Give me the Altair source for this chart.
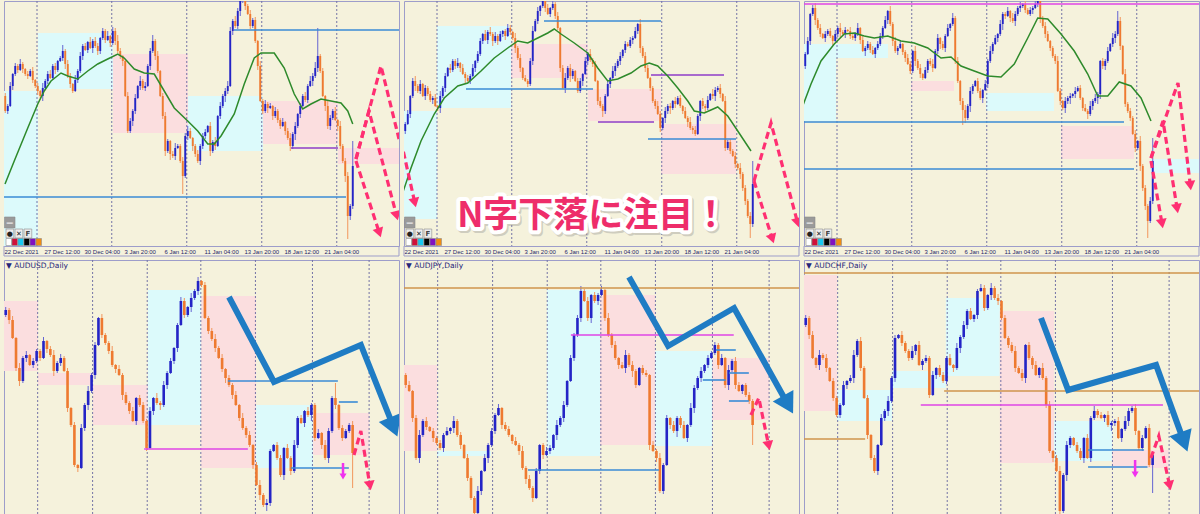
import json
import math

import altair as alt
import pandas as pd

# ------------------------------------------------------------------ colours
BG = "#f5f2dc"
FRAME = "#9d9dca"
GRID = "#7373a6"
ZONE_FILL = {"pink": "#fbdedf", "cyan": "#dcfafb"}
BODY_FILL = {"up": "#2424c6", "down": "#ee7a30"}
WICK_FILL = {"up": "#6464d2", "down": "#f2965c"}
LEVEL_FILL = {"blue": "#3a8bd6", "purple": "#8e3cc8", "magenta": "#df44e6", "orange": "#cf944c"}
MA_COLOR = "#2e8a2b"
ARROW_STYLE = {
    "pink": dict(color="#ff2f72", width=3.2, dash=[7, 4], head=120),
    "blue": dict(color="#1f7cc4", width=6.0, dash=None, head=560),
    "magenta": dict(color="#f032ee", width=2.5, dash=None, head=50),
}
TOOLBAR_SWATCHES = ["#ffffff", "#d0103a", "#18c8f0", "#000000", "#8010c0", "#f08c10"]

# ------------------------------------------------------------------ geometry
PANEL_W = 395
TOP = dict(slots=158, px=2.5, ydom=[0, 245], height=245)       # H4 panels
BOTTOM = dict(slots=115, px=3.435, ydom=[-8, 255], height=263)  # daily panels

# ------------------------------------------------------------------ time axis (H4)
H4_LABELS = ["22 Dec 2021", "27 Dec 12:00", "30 Dec 04:00", "3 Jan 20:00", "6 Jan 12:00",
             "11 Jan 04:00", "13 Jan 20:00", "18 Jan 12:00", "21 Jan 04:00"]
H4_LABEL_BARS = [0, 16, 32, 48, 64, 80, 96, 112, 128]
H4_GRID = [13.2, 43.1, 73.1, 103.1, 133.1]
D1_GRID = [9.8, 25.8, 41.7, 57.3, 73.2, 89.8, 106.3]

# ------------------------------------------------------------------ price data (points above window low)
tl_open0 = 150
tl_close = [
    135, 140, 160, 172, 180, 176, 182, 177, 172, 170,
    175, 166, 160, 155, 150, 158, 165, 172, 168, 180,
    176, 185, 188, 195, 182, 170, 162, 155, 166, 175,
    190, 200, 196, 204, 198, 205, 200, 195, 208, 215,
    206, 210, 203, 215, 205, 195, 190, 185, 150, 115,
    125, 135, 148, 160, 165, 158, 160, 180, 195, 205,
    190, 175, 150, 130, 95, 105, 92, 90, 98, 100,
    85, 70, 110, 115, 108, 100, 92, 85, 100, 110,
    114, 120, 95, 104, 100, 130, 140, 150, 155, 160,
    215, 225, 220, 235, 245, 250, 240, 232, 220, 226,
    205, 180, 145, 135, 142, 138, 140, 130, 135, 126,
    120, 124, 115, 108, 100, 112, 120, 132, 140, 150,
    146, 160, 165, 170, 178, 190, 175, 150, 140, 120,
    128, 135, 126, 120, 100, 85, 70, 30, 40, 80,
]
tl_wick_hi = ("3241325213 2413152342 3126243152 4231524313 2514363124 3241524236 2513421352 "
              "2435312423 3142514235 4253613242 3152423142 2413524132 42536s2315 324152342p")
tl_wick_lo = ("2314231423 1324251312 4213524213 2413152432 3142423512 2531423142 4213526241 "
              "2i24153243 3152413263 1423524132 2413251423 3142536241 2315242153 4215326n43")

tm_open0 = 115
tm_close = [
    122, 132, 150, 165, 160, 155, 162, 150, 158, 152,
    146, 148, 140, 138, 150, 158, 170, 178, 176, 185,
    180, 183, 178, 172, 168, 165, 170, 178, 185, 192,
    205, 212, 206, 214, 212, 205, 210, 205, 212, 215,
    210, 218, 214, 208, 198, 188, 178, 168, 165, 162,
    185, 215, 225, 235, 240, 245, 238, 232, 238, 242,
    230, 218, 178, 158, 168, 178, 170, 175, 165, 155,
    165, 172, 185, 192, 186, 182, 165, 145, 140, 135,
    150, 162, 168, 175, 180, 185, 190, 196, 202, 200,
    206, 208, 215, 222, 198, 190, 178, 168, 158, 145,
    140, 132, 118, 128, 135, 140, 138, 145, 142, 148,
    140, 135, 128, 124, 118, 116, 112, 130, 145, 140,
    138, 146, 152, 150, 156, 158, 152, 145, 98, 104,
    95, 90, 82, 78, 72, 58, 45, 30, 22, 62,
]
tm_wick_hi = ("2413524132 3241523142 2514232413 3142524231 2431524132 3524132415 2413524213 "
              "3142523142 2415324132 3241524312 2531423142 3142524213 2415324152 324152324n")
tm_wick_lo = ("3142523142 2413524132 3241523142 2314252413 4132524213 2413524132 3241526312 "
              "2514231426 3142524231 2413524132 3142536241 2315242153 4213524132 31425342e3")

tr_open0 = 180
tr_close = [
    192, 205, 232, 238, 226, 218, 212, 208, 212, 215,
    210, 205, 212, 218, 214, 212, 216, 215, 210, 208,
    212, 218, 206, 195, 198, 202, 196, 192, 198, 202,
    210, 218, 226, 235, 222, 205, 195, 198, 202, 194,
    188, 182, 175, 195, 185, 178, 172, 168, 176, 185,
    182, 178, 195, 208, 202, 198, 210, 218, 222, 228,
    185, 165, 145, 136, 128, 140, 155, 160, 165, 155,
    148, 156, 162, 185, 195, 202, 208, 212, 222, 232,
    230, 235, 228, 225, 232, 238, 240, 242, 236, 232,
    236, 238, 242, 245, 228, 220, 212, 205, 198, 190,
    185, 155, 145, 138, 145, 148, 150, 152, 155, 158,
    148, 138, 135, 132, 140, 145, 148, 152, 185, 180,
    185, 195, 202, 208, 212, 225, 200, 172, 142, 135,
    128, 112, 98, 105, 80, 58, 40, 25, 45, 85,
]
tr_wick_hi = ("2413524132 3142523142 2514232413 3241524231 2431524132 3524132415 2413524213 "
              "3142523142 2415324132 3241524312 2531423142 3142524213 24153a4152 324152324n")
tr_wick_lo = ("3142523142 2413524132 3241523142 2314252413 4132524213 2413524132 324f526312 "
              "2514231426 3142524231 2413524132 3142536241 2315242653 4213524132 3142534h23")

bl_open0 = 200
bl_close = [
    205, 195, 177, 147, 134, 157, 160, 150, 154, 164,
    157, 174, 166, 160, 144, 152, 157, 144, 107, 90,
    50, 47, 87, 110, 124, 140, 170, 197, 180, 172,
    164, 150, 146, 140, 120, 112, 104, 94, 117, 110,
    94, 67, 104, 117, 112, 110, 130, 142, 154, 167,
    190, 214, 200, 208, 217, 224, 234, 230, 197, 184,
    176, 167, 157, 146, 137, 130, 120, 110, 97, 87,
    80, 70, 50, 30, 20, 10, 12, 64, 70, 57,
    40, 67, 57, 44, 70, 97, 92, 104, 100, 110,
    77, 82, 70, 57, 84, 117, 110, 87, 77, 84,
    90, 62,
]
bl_wick_hi = ("3241524132 2413524231 3142523142 2514232413 3241524231 2431524132 3524132415 "
              "2413524213 3142523142 241532f132 24")
bl_wick_lo = ("2413524132 3142523142 2413524132 3241523142 2314252413 4132524213 2413524132 "
              "3241526312 2514231426 3142524231 2z")

bm_open0 = 140
bm_close = [
    130, 124, 97, 57, 80, 94, 88, 84, 77, 72,
    67, 80, 84, 87, 94, 80, 70, 57, 37, 17,
    2, 24, 44, 57, 70, 84, 100, 107, 90, 86,
    80, 74, 70, 64, 47, 36, 27, 17, 44, 70,
    60, 64, 67, 80, 90, 97, 110, 134, 157, 180,
    197, 224, 214, 197, 220, 214, 220, 225, 197, 180,
    170, 157, 150, 147, 160, 150, 144, 130, 147, 142,
    140, 70, 64, 57, 24, 50, 97, 90, 84, 97,
    90, 77, 90, 107, 127, 137, 144, 150, 157, 162,
    170, 150, 157, 130, 145, 154, 130, 124, 130, 120,
    114, 90,
]
bm_wick_hi = ("2413524132 3241523142 2514232413 3142524231 2431524132 3524132415 2413524213 "
              "3142523142 2415324132 3241524312 32")
bm_wick_lo = ("3142523142 2413524132 3241523142 2314252413 4132524213 2413524132 3241526312 "
              "2514231426 3142524231 2413524132 3k")

br_open0 = 190
br_close = [
    197, 180, 157, 150, 160, 157, 147, 134, 117, 100,
    110, 130, 134, 137, 160, 174, 147, 117, 80, 57,
    44, 70, 97, 104, 114, 137, 177, 180, 172, 164,
    157, 164, 170, 150, 154, 157, 120, 140, 147, 140,
    134, 157, 150, 147, 167, 178, 190, 204, 196, 200,
    224, 227, 207, 220, 227, 217, 214, 197, 177, 170,
    164, 147, 142, 137, 170, 157, 150, 140, 147, 137,
    110, 64, 57, 44, 4, 40, 70, 77, 70, 64,
    57, 77, 57, 97, 104, 100, 97, 100, 90, 92,
    94, 77, 86, 94, 104, 107, 84, 67, 77, 87,
    50, 60,
]
br_wick_hi = ("3241524132 2413524231 3142523142 2514232413 3241524231 2431524132 3524132415 "
              "2413524213 3142523142 2415324132 43")
br_wick_lo = ("2413524132 3142523142 2413524132 3241523142 2314252413 4132524213 2413524132 "
              "3241526312 2514231426 3142524231 2s")

# ------------------------------------------------------------------ 20-period moving averages (H4)
tl_ma_bar = [0.4, 4.1, 9.5, 13.5, 16.1, 18.8, 22.8, 25.5, 29.5, 33.5, 37.5, 41.5, 45.5, 48.1, 52.1,
             56.1, 60.1, 64.1, 68.1, 73.5, 77.5, 81.5, 84.1, 86.8, 92.1, 96.1, 100.1, 102.8, 108.1,
             112.1, 116.1, 119.5, 122.8, 126.8, 130.8, 134.8, 137.5, 139.5]
tl_ma_val = [62, 85, 118, 142, 155, 165, 173, 170, 167, 175, 182, 187, 192, 188, 177,
             173, 172, 155, 138, 125, 115, 102, 102, 110, 132, 162, 188, 193, 193,
             178, 152, 137, 142, 147, 145, 143, 135, 122]
tm_ma_bar = [-1.2, 2.8, 6.8, 12.1, 16.1, 21.5, 25.5, 30.8, 36.1, 41.5, 45.5, 49.5, 53.5, 57.5, 60.1,
             62.8, 68.1, 73.5, 77.5, 81.5, 85.5, 90.8, 94.8, 98.1, 101.5, 105.5, 109.5, 113.5,
             116.1, 120.1, 125.5, 129.5, 133.5, 138.8]
tm_ma_val = [48, 78, 105, 132, 148, 160, 163, 175, 188, 198, 205, 203, 208, 213, 217,
             212, 203, 193, 178, 165, 167, 173, 180, 183, 180, 170, 158, 145,
             135, 133, 139, 130, 115, 95]
tr_ma_bar = [-0.5, 2.8, 6.8, 12.1, 16.1, 20.1, 24.1, 28.1, 33.5, 38.8, 44.1, 49.5, 54.8, 58.8, 62.8,
             68.1, 73.5, 78.8, 84.1, 89.5, 93.5, 97.5, 102.8, 108.1, 113.5, 117.5, 121.5, 126.1,
             130.8, 134.8, 138.8]
tr_ma_val = [140, 162, 185, 202, 212, 213, 210, 208, 210, 205, 203, 198, 188, 189, 180,
             175, 170, 169, 182, 208, 228, 227, 212, 195, 172, 150, 150, 164,
             160, 148, 125]

# ------------------------------------------------------------------ shaded supply/demand zones
# (bar_from, bar_to, price_low, price_high, kind)
tl_zones = [(0, 13.6, 0, 155, "cyan"), (13.6, 43.6, 157, 213, "cyan"), (43.6, 73.6, 113, 192, "pink"),
            (73.6, 103.6, 95, 150, "cyan"), (103.6, 133.6, 102, 145, "pink"), (133.6, 158, 82, 98, "pink")]
tm_zones = [(0, 13.2, 27, 135, "cyan"), (13.2, 42.8, 138, 220, "cyan"), (42.8, 73.6, 168, 202, "pink"),
            (73.6, 102.8, 125, 157, "pink"), (102.8, 132.8, 72, 122, "pink")]
tr_zones = [(0, 12.8, 125, 202, "cyan"), (12.8, 33.6, 188, 202, "cyan"), (42.8, 60, 155, 165, "pink"),
            (72.8, 100, 135, 153, "cyan"), (102.8, 132, 87, 120, "pink"), (138.8, 158, 73, 87, "cyan")]
bl_zones = [(0, 9.9, 144, 214, "pink"), (9.9, 25.9, 130, 142, "pink"), (25.9, 41.9, 90, 130, "pink"),
            (41.9, 57.4, 90, 225, "cyan"), (57.4, 73.4, 47, 219, "pink"), (73.4, 90, 47, 110, "cyan"),
            (90, 106.3, 60, 102, "pink")]
bm_zones = [(0, 9.6, 64, 150, "pink"), (9.6, 25.3, 59, 64, "cyan"), (41.6, 57.1, 59, 225, "cyan"),
            (57.1, 73.1, 70, 220, "pink"), (73.1, 89.7, 69, 164, "cyan"), (89.7, 106.3, 95, 157, "pink")]
br_zones = [(0, 9.6, 104, 240, "pink"), (9.6, 25.6, 94, 125, "cyan"), (25.6, 41.3, 127, 144, "cyan"),
            (41.3, 57, 139, 217, "cyan"), (57, 72.8, 52, 204, "pink"), (72.8, 89.7, 54, 94, "cyan"),
            (89.7, 106.3, 47, 65, "pink")]

# ------------------------------------------------------------------ horizontal levels
# (bar_from, bar_to, price, kind)
tl_levels = [(92, 158, 216, "blue"), (0, 136.8, 49, "blue"), (114.8, 133.6, 98, "purple")]
tm_levels = [(56, 102.8, 225, "blue"), (24.8, 75.6, 157, "blue"), (98.8, 128, 171, "purple"),
             (77.6, 100, 124, "purple"), (97.6, 132.8, 107, "blue")]
tr_levels = [(0, 158, 242, "magenta"), (0, 128, 124, "blue"), (0, 132, 77, "blue")]
bl_levels = [(65.2, 97.2, 134, "blue"), (97.5, 103, 113, "blue"), (40.8, 71, 66, "magenta"),
             (83.6, 100.4, 47, "blue")]
bm_levels = [(0, 115, 227, "orange"), (48.6, 96, 180, "magenta"), (36.1, 74.2, 45, "blue"),
             (90.8, 96.6, 165, "blue"), (87, 93.6, 135, "blue"), (94.6, 100.4, 142, "blue"),
             (94.6, 100.4, 114, "blue")]
br_levels = [(0, 115, 242, "orange"), (40.8, 115, 124, "orange"), (0, 17.8, 76, "orange"),
             (34, 104.5, 110, "magenta"), (82.7, 99, 65, "blue"), (82.7, 100, 48, "blue")]

# ------------------------------------------------------------------ N-pattern arrows (bar, price)
tl_arrows = [("pink", [(140.8, 87), (150.8, 180), (158, 107)], False),
             ("pink", [(140.8, 87), (146, 135), (157.6, 25)], True),
             ("pink", [(140.8, 85), (150.8, 8)], True)]
tm_arrows = [("pink", [(-1.2, 105), (4.8, 38)], True),
             ("pink", [(140, 65), (146.8, 123), (158, 18)], True),
             ("pink", [(140, 65), (148, 2)], True)]
tr_arrows = [("pink", [(138.8, 88), (149.6, 163), (154.8, 55)], True),
             ("pink", [(138.8, 88), (143.6, 125), (149.6, 32)], True),
             ("pink", [(138.8, 85), (143.6, 17)], True)]
bl_arrows = [("blue", [(65.5, 218), (78.6, 133), (103.9, 170), (114.7, 77)], True),
             ("pink", [(101.9, 60), (103.9, 84), (106.8, 24)], True),
             ("magenta", [(98.7, 52), (98.7, 35)], True)]
bm_arrows = [("blue", [(65.5, 238), (76.9, 169), (96.1, 207), (113.5, 100)], True),
             ("pink", [(101, 100), (103.3, 117), (106.5, 64)], True)]
br_arrows = [("blue", [(69, 197), (76.9, 125), (102.5, 150), (111.8, 62)], True),
             ("pink", [(101, 57), (103.3, 79), (106.8, 24)], True),
             ("magenta", [(96.4, 55), (96.4, 37)], True)]

HEADLINE = ("N字下落に注目！", 75.5, 30)
SYMBOLS = {"bl": "AUDUSD,Daily", "bm": "AUDJPY,Daily", "br": "AUDCHF,Daily"}


def wick_list(code):
    return [int(ch, 36) for ch in code.replace(" ", "")]


def candle_frame(closes, open0, hi_code, lo_code):
    hi, lo = wick_list(hi_code), wick_list(lo_code)
    assert len(hi) == len(lo) == len(closes), (len(hi), len(lo), len(closes))
    opens = [open0] + list(closes[:-1])
    rows = []
    for i, (o, c) in enumerate(zip(opens, closes)):
        side = "up" if c >= o else "down"
        rows.append({"bar": i + 0.5, "left": i + 0.12, "right": i + 0.88,
                     "open": o, "close": c,
                     "high": max(o, c) + hi[i], "low": min(o, c) - lo[i],
                     "body": BODY_FILL[side], "wick": WICK_FILL[side]})
    return pd.DataFrame(rows)


def arrow_frames(arrows, px):
    """Split arrow polylines into shaft points and arrow-head markers."""
    shafts, heads = [], []
    for pid, (style, pts, has_head) in enumerate(arrows):
        pts = list(pts)
        if has_head:
            (x0, y0), (x1, y1) = pts[-2], pts[-1]
            dxp, dyp = (x1 - x0) * px, -(y1 - y0)          # screen pixels, y down
            length = math.hypot(dxp, dyp)
            ux, uy = dxp / length, dyp / length
            back = math.sqrt(ARROW_STYLE[style]["head"]) * 0.5
            cx, cy = x1 - ux * back / px, y1 + uy * back
            heads.append({"style": style, "x": cx, "y": cy,
                          "angle": math.degrees(math.atan2(ux, -uy)) % 360})
            pts[-1] = (cx, cy)
        for seq, (x, y) in enumerate(pts):
            shafts.append({"style": style, "path": pid, "seq": seq, "x": x, "y": y})
    return pd.DataFrame(shafts), pd.DataFrame(heads)


def panel(geom, closes, open0, hi_code, lo_code, zones, levels, grid, arrows,
          ma=None, axis=None, symbol=None, toolbar=False, headline=None):
    xs = alt.Scale(domain=[0, geom["slots"]], nice=False, zero=False)
    ys = alt.Scale(domain=geom["ydom"], nice=False, zero=False)

    def X(field):
        return alt.X(f"{field}:Q", scale=xs, axis=axis)

    def Y(field):
        return alt.Y(f"{field}:Q", scale=ys, axis=None)

    layers = []

    zdf = pd.DataFrame(zones, columns=["x0", "x1", "y0", "y1", "kind"])
    zdf["fill"] = zdf["kind"].map(ZONE_FILL)
    layers.append(alt.Chart(zdf).mark_rect(clip=True).encode(
        x=X("x0"), x2="x1", y=Y("y0"), y2="y1", color=alt.Color("fill:N", scale=None)))

    layers.append(alt.Chart(pd.DataFrame({"g": grid})).mark_rule(
        color=GRID, strokeWidth=1, strokeDash=[2, 2], clip=True).encode(x=X("g")))

    cdf = candle_frame(closes, open0, hi_code, lo_code)
    layers.append(alt.Chart(cdf).mark_rule(strokeWidth=1, clip=True).encode(
        x=X("bar"), y=Y("low"), y2="high", color=alt.Color("wick:N", scale=None)))
    layers.append(alt.Chart(cdf).mark_rect(clip=True).encode(
        x=X("left"), x2="right", y=Y("open"), y2="close", color=alt.Color("body:N", scale=None)))

    ldf = pd.DataFrame(levels, columns=["x0", "x1", "y", "kind"])
    ldf["stroke"] = ldf["kind"].map(LEVEL_FILL)
    layers.append(alt.Chart(ldf).mark_rule(strokeWidth=1.6, clip=True).encode(
        x=X("x0"), x2="x1", y=Y("y"), color=alt.Color("stroke:N", scale=None)))

    if ma is not None:
        mdf = pd.DataFrame({"slot": ma[0], "value": ma[1]})
        layers.append(alt.Chart(mdf).mark_line(color=MA_COLOR, strokeWidth=1.5, clip=True).encode(
            x=X("slot"), y=Y("value")))

    if toolbar:
        tb = [{"x0": 0.2, "x1": 4.4, "y0": 18, "y1": 29, "fill": "#9a9a9a"}]
        for k in range(3):
            tb.append({"x0": 0.8 + 3.6 * k, "x1": 3.9 + 3.6 * k, "y0": 8, "y1": 17, "fill": "#ececec"})
        for k, sw in enumerate(TOOLBAR_SWATCHES):
            tb.append({"x0": 0.8 + 2.4 * k, "x1": 3.0 + 2.4 * k, "y0": 0.5, "y1": 7.5, "fill": sw})
        layers.append(alt.Chart(pd.DataFrame(tb)).mark_rect(
            stroke="#8c8c8c", strokeWidth=0.6, clip=True).encode(
            x=X("x0"), x2="x1", y=Y("y0"), y2="y1", color=alt.Color("fill:N", scale=None)))
        glyphs = pd.DataFrame({"x": [2.3, 2.35, 5.95, 9.55], "y": [23.5, 12.5, 12.5, 12.5],
                               "t": ["—", "●", "✕", "F"],
                               "c": ["#ffffff", "#222222", "#222222", "#444444"]})
        layers.append(alt.Chart(glyphs).mark_text(fontSize=7, font="DejaVu Sans", fontWeight="bold").encode(
            x=X("x"), y=Y("y"), text="t:N", color=alt.Color("c:N", scale=None)))

        # window frame below the time scale
        lo = geom["ydom"][0] - 10
        frame = pd.DataFrame({"x0": [0, 0, geom["slots"]], "x1": [geom["slots"], 0, geom["slots"]],
                              "y0": [lo, lo, lo], "y1": [lo, geom["ydom"][0], geom["ydom"][0]]})
        layers.append(alt.Chart(frame).mark_rule(color=FRAME, strokeWidth=1, clip=False).encode(
            x=X("x0"), x2="x1", y=Y("y0"), y2="y1"))

    shafts, heads = arrow_frames(arrows, geom["px"])
    for style, st in ARROW_STYLE.items():
        sdf = shafts[shafts["style"] == style]
        if len(sdf):
            kw = dict(color=st["color"], strokeWidth=st["width"], clip=True, strokeCap="butt")
            if st["dash"]:
                kw["strokeDash"] = st["dash"]
            layers.append(alt.Chart(sdf).mark_line(**kw).encode(
                x=X("x"), y=Y("y"), detail="path:N", order="seq:Q"))
        hdf = heads[heads["style"] == style] if len(heads) else heads
        if len(hdf):
            layers.append(alt.Chart(hdf).mark_point(
                shape="triangle-up", filled=True, size=st["head"], color=st["color"],
                opacity=1, clip=True).encode(
                x=X("x"), y=Y("y"), angle=alt.Angle("angle:Q", scale=None)))

    if symbol is not None:
        tdf = pd.DataFrame({"x": [0.6], "y": [249], "t": ["▼ " + symbol]})
        layers.append(alt.Chart(tdf).mark_text(
            align="left", baseline="middle", fontSize=7.5, font="DejaVu Sans", color="#26267a").encode(
            x=X("x"), y=Y("y"), text="t:N"))

    if headline is not None:
        hdf = pd.DataFrame({"t": [headline[0]], "x": [headline[1]], "y": [headline[2]]})
        base = dict(font="Noto Sans CJK JP", fontWeight="bold", fontSize=35,
                    align="center", baseline="middle")
        layers.append(alt.Chart(hdf).mark_text(
            **base, color="#8a8a8a", stroke="#8a8a8a", strokeWidth=8, strokeJoin="round",
            opacity=0.35, dx=1.5, dy=2).encode(x=X("x"), y=Y("y"), text="t:N"))
        layers.append(alt.Chart(hdf).mark_text(
            **base, color="#ffffff", stroke="#ffffff", strokeWidth=8, strokeJoin="round").encode(
            x=X("x"), y=Y("y"), text="t:N"))
        layers.append(alt.Chart(hdf).mark_text(**base, color="#ee2d6a").encode(
            x=X("x"), y=Y("y"), text="t:N"))

    return alt.layer(*layers).properties(width=PANEL_W, height=geom["height"])


label_expr = f"{json.dumps(H4_LABELS)}[indexof({json.dumps(H4_LABEL_BARS)}, datum.value)]"
h4_axis = alt.Axis(values=H4_LABEL_BARS, labelExpr=label_expr, title=None, domain=False,
                   ticks=False, grid=False, labelPadding=2, labelFontSize=6,
                   labelFont="Liberation Sans", labelColor="#1f1f6a", labelAlign="left",
                   labelOverlap=False, labelFlush=False)

tl = panel(TOP, tl_close, tl_open0, tl_wick_hi, tl_wick_lo, tl_zones, tl_levels, H4_GRID,
           tl_arrows, ma=(tl_ma_bar, tl_ma_val), axis=h4_axis, toolbar=True)
tm = panel(TOP, tm_close, tm_open0, tm_wick_hi, tm_wick_lo, tm_zones, tm_levels, H4_GRID,
           tm_arrows, ma=(tm_ma_bar, tm_ma_val), axis=h4_axis, toolbar=True, headline=HEADLINE)
tr = panel(TOP, tr_close, tr_open0, tr_wick_hi, tr_wick_lo, tr_zones, tr_levels, H4_GRID,
           tr_arrows, ma=(tr_ma_bar, tr_ma_val), axis=h4_axis, toolbar=True)
bl = panel(BOTTOM, bl_close, bl_open0, bl_wick_hi, bl_wick_lo, bl_zones, bl_levels, D1_GRID,
           bl_arrows, symbol=SYMBOLS["bl"])
bm = panel(BOTTOM, bm_close, bm_open0, bm_wick_hi, bm_wick_lo, bm_zones, bm_levels, D1_GRID,
           bm_arrows, symbol=SYMBOLS["bm"])
br = panel(BOTTOM, br_close, br_open0, br_wick_hi, br_wick_lo, br_zones, br_levels, D1_GRID,
           br_arrows, symbol=SYMBOLS["br"])

# 3 x 2 grid: H4 charts on top, daily charts below
chart = (
    alt.concat(tl, tm, tr, bl, bm, br, columns=3, spacing={"row": 14, "column": 5}, bounds="flush")
    .properties(background=BG, padding={"left": 3, "top": 0, "right": 0, "bottom": 0})
    .configure_view(stroke=FRAME, strokeWidth=1, fill=BG)
)

chart.save("out.html", embed_options={"renderer": "svg", "actions": False})
